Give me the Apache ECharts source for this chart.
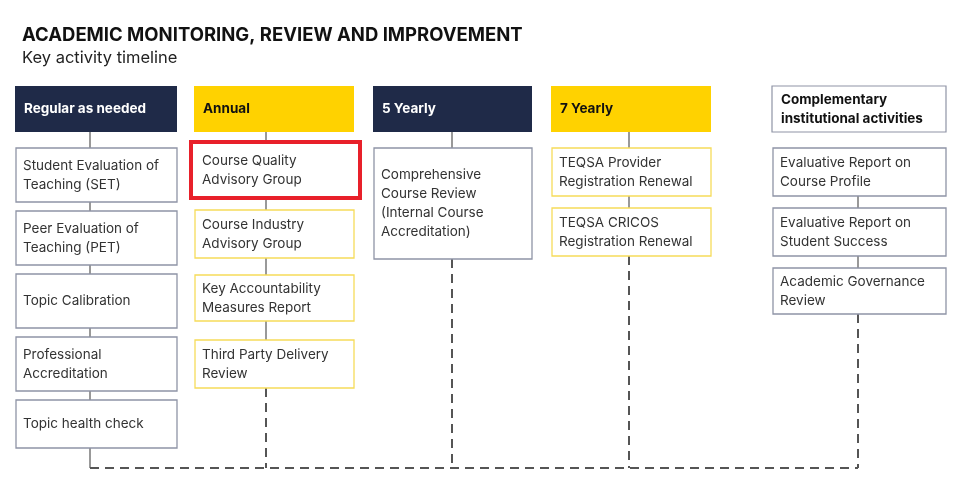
<!DOCTYPE html>
<html><head><meta charset="utf-8">
<script src="https://cdn.jsdelivr.net/npm/echarts@6/dist/echarts.min.js"></script>
<style>html,body{margin:0;background:#fff}#c{width:970px;height:490px}</style>
</head><body><div id="c"></div>
<script>
// column headers and their activities
const headers = ['Regular as needed', 'Annual', '5 Yearly', '7 Yearly', 'Complementary\ninstitutional activities'];
const headerStyle = ['navy', 'yellow', 'navy', 'yellow', 'plain'];
const col0 = ['Student Evaluation of\nTeaching (SET)', 'Peer Evaluation of\nTeaching (PET)', 'Topic Calibration', 'Professional\nAccreditation', 'Topic health check'];
const col1 = ['Course Quality\nAdvisory Group', 'Course Industry\nAdvisory Group', 'Key Accountability\nMeasures Report', 'Third Party Delivery\nReview'];
const col2 = ['Comprehensive\nCourse Review\n(Internal Course\nAccreditation)'];
const col3 = ['TEQSA Provider\nRegistration Renewal', 'TEQSA CRICOS\nRegistration Renewal'];
const col4 = ['Evaluative Report on\nCourse Profile', 'Evaluative Report on\nStudent Success', 'Academic Governance\nReview'];
const highlighted = [[1, 0]];

// layout (pixels)
const COL_LEFT = [15, 194, 373, 551, 772];
const COL_W = [162, 160, 159, 160, 174];
const LINK_X = [90, 266, 452, 629, 858];
const ROW_TOP = [148, 145, 148, 148, 148];
const ROW_STEP = [63, 65, 0, 60, 60];
const BOX_H = [[54, 54, 54, 54, 48], [50, 48, 46, 48], [111], [48, 48], [48, 48, 46]];
const HEAD_TOP = 86, HEAD_H = 46, BUS_Y = 468;
const NAVY = '#1f2a48', YELLOW = '#ffd200', GREY = '#8f94a6', PALE = '#f6dc5a';

const cols = [col0, col1, col2, col3, col4];
const data = [];
cols.forEach((c, i) => c.forEach((t, j) => data.push([i, j, t])));
const headerData = headers.map((h, i) => [i, -1, h]);

function box(api, x, y, w, h) {
  const p0 = api.coord([x, y]), p1 = api.coord([x + w, y + h]);
  return { x: p0[0], y: p0[1], width: p1[0] - p0[0], height: p1[1] - p0[1] };
}

const chart = echarts.init(document.getElementById('c'));
chart.setOption({
  animation: false,
  title: {
    text: 'ACADEMIC MONITORING, REVIEW AND IMPROVEMENT',
    subtext: 'Key activity timeline',
    left: 17, top: 21, itemGap: 5,
    textStyle: { fontFamily: 'Inter', fontSize: 18.5, fontWeight: 'bold', color: '#111' },
    subtextStyle: { fontFamily: 'Inter', fontSize: 16.5, color: '#222' }
  },
  grid: { left: 0, right: 0, top: 0, bottom: 0 },
  xAxis: { type: 'value', min: 0, max: 970, show: false },
  yAxis: { type: 'value', min: 0, max: 490, inverse: true, show: false },
  series: [
    {
      // connectors
      type: 'custom', silent: true, z: 1,
      data: cols.map((c, i) => [i, c.length]),
      renderItem: (params, api) => {
        const i = api.value(0), n = api.value(1);
        const cx = LINK_X[i];
        const ch = [];
        const tops = [], bots = [];
        for (let j = 0; j < n; j++) {
          const t = ROW_TOP[i] + j * ROW_STEP[i];
          tops.push(t); bots.push(t + BOX_H[i][j]);
        }
        const seg = (y0, y1, dashed, xx0, xx1) => {
          const a = api.coord([xx0 === undefined ? cx : xx0, y0]);
          const b = api.coord([xx1 === undefined ? cx : xx1, y1]);
          ch.push({ type: 'line', shape: { x1: a[0], y1: a[1], x2: b[0], y2: b[1] },
            style: { stroke: '#555', lineWidth: dashed ? 2 : 1.2, lineDash: dashed ? [9, 6] : null } });
        };
        if (i !== 4) seg(HEAD_TOP + HEAD_H, tops[0], false);
        for (let j = 1; j < n; j++) seg(bots[j - 1], tops[j], false);
        seg(bots[n - 1], BUS_Y, i !== 0);
        if (i === 0) seg(BUS_Y, BUS_Y, true, cx, LINK_X[4]);
        return { type: 'group', children: ch };
      }
    },
    {
      // headers
      type: 'custom', silent: true, z: 2,
      data: headerData,
      renderItem: (params, api) => {
        const i = api.value(0);
        const s = headerStyle[i];
        const r = box(api, COL_LEFT[i], HEAD_TOP, COL_W[i], HEAD_H);
        return { type: 'group', children: [
          { type: 'rect', shape: r, style: { fill: s === 'navy' ? NAVY : s === 'yellow' ? YELLOW : '#fff',
            stroke: s === 'plain' ? GREY : null, lineWidth: 1.2 } },
          { type: 'text', x: r.x + 9, y: r.y + r.height / 2,
            style: { text: headers[i], fill: s === 'navy' ? '#fff' : '#111', fontFamily: 'Inter', fontWeight: 'bold',
              fontSize: 13.5, lineHeight: 19, verticalAlign: 'middle' } }
        ] };
      }
    },
    {
      // activity boxes
      type: 'custom', silent: true, z: 3,
      data: data,
      renderItem: (params, api) => {
        const i = api.value(0), j = api.value(1);
        const top = ROW_TOP[i] + j * ROW_STEP[i];
        const r = box(api, COL_LEFT[i] + 1, top, COL_W[i] - 1, BOX_H[i][j]);
        const yellow = i === 1 || i === 3;
        const ch = [];
        if (highlighted.some(h => h[0] === i && h[1] === j)) {
          ch.push({ type: 'rect', shape: { x: r.x - 4, y: r.y - 3, width: r.width + 10, height: r.height + 6 },
            style: { fill: '#fff', stroke: '#e8202a', lineWidth: 4 } });
        } else {
          ch.push({ type: 'rect', shape: r, style: { fill: '#fff', stroke: yellow ? PALE : GREY, lineWidth: 1.3 } });
        }
        ch.push({ type: 'text', x: r.x + 7, y: r.y + r.height / 2,
          style: { text: cols[i][j], fill: '#333', fontFamily: 'Inter', fontSize: 13.5, lineHeight: 19, verticalAlign: 'middle' } });
        return { type: 'group', children: ch };
      }
    }
  ]
});
</script></body></html>
